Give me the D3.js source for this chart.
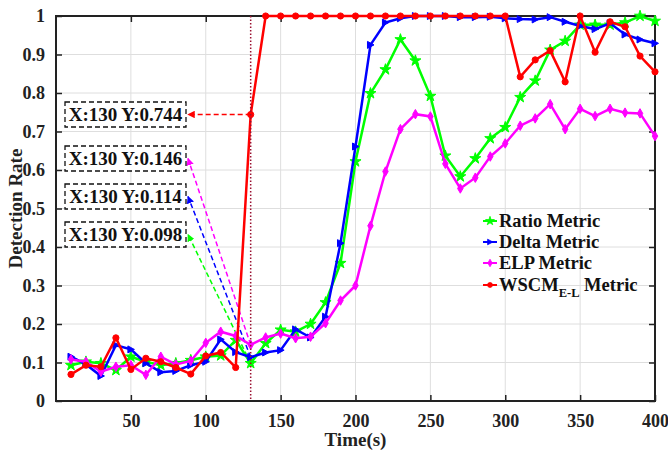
<!DOCTYPE html>
<html>
<head>
<meta charset="utf-8">
<script src="https://cdn.jsdelivr.net/npm/d3@7"></script>
<style>
  body { margin: 0; background: #fff; }
  text { font-family: "Liberation Serif", "Times New Roman", serif; font-weight: bold; }
</style>
</head>
<body>
<div id="chart"></div>
<script>
// time axis (seconds)
const times = [10, 20, 30, 40, 50, 60, 70, 80, 90, 100, 110, 120, 130, 140, 150, 160, 170, 180, 190, 200,
               210, 220, 230, 240, 250, 260, 270, 280, 290, 300, 310, 320, 330, 340, 350, 360, 370, 380, 390, 400];

const ratioMetric = [0.093, 0.102, 0.098, 0.080, 0.115, 0.102, 0.093, 0.098, 0.106, 0.115, 0.118, 0.158, 0.098,
                     0.150, 0.185, 0.180, 0.200, 0.256, 0.358, 0.622, 0.799, 0.861, 0.939, 0.884, 0.792, 0.637,
                     0.583, 0.630, 0.682, 0.711, 0.789, 0.832, 0.912, 0.935, 0.977, 0.977, 0.977, 0.983, 1.000, 0.987];

const deltaMetric = [0.115, 0.095, 0.065, 0.145, 0.134, 0.098, 0.075, 0.078, 0.093, 0.102, 0.160, 0.127, 0.114,
                     0.126, 0.132, 0.186, 0.165, 0.219, 0.410, 0.661, 0.925, 0.983, 0.994, 1.000, 1.000, 1.000,
                     0.997, 0.997, 0.998, 0.994, 0.992, 0.991, 0.997, 0.985, 0.974, 0.966, 0.981, 0.952, 0.939, 0.929];

const elpMetric = [0.108, 0.102, 0.076, 0.089, 0.093, 0.068, 0.115, 0.095, 0.104, 0.151, 0.180, 0.169, 0.146,
                   0.165, 0.175, 0.163, 0.167, 0.202, 0.261, 0.300, 0.455, 0.596, 0.706, 0.745, 0.739, 0.616,
                   0.552, 0.580, 0.635, 0.669, 0.715, 0.734, 0.771, 0.706, 0.759, 0.740, 0.759, 0.749, 0.747, 0.688];

const wscmMetric = [0.069, 0.093, 0.089, 0.164, 0.082, 0.111, 0.102, 0.087, 0.070, 0.117, 0.126, 0.087, 0.744,
                    1, 1, 1, 1, 1, 1, 1, 1, 1, 1, 1, 1, 1, 1, 1, 1, 1,
                    0.842, 0.886, 0.910, 0.829, 1.000, 0.906, 0.985, 0.972, 0.896, 0.855];

const xTicks = [50, 100, 150, 200, 250, 300, 350, 400];
const yTicks = [0, 0.1, 0.2, 0.3, 0.4, 0.5, 0.6, 0.7, 0.8, 0.9, 1];

const markTime = 130; // cursor / datatip position

const w = 668, h = 450;
const margin = {top: 16, right: 13, bottom: 49, left: 56};

const svg = d3.select("#chart").append("svg")
  .attr("width", w).attr("height", h);

const x = d3.scaleLinear().domain([0, 400]).range([margin.left, w - margin.right]);
const y = d3.scaleLinear().domain([0, 1]).range([h - margin.bottom, margin.top]);

// grid
svg.append("g").selectAll("line").data(xTicks.slice(0, -1)).enter().append("line")
  .attr("x1", d => x(d)).attr("x2", d => x(d))
  .attr("y1", y(0)).attr("y2", y(1))
  .attr("stroke", "#dedede").attr("stroke-width", 1);
svg.append("g").selectAll("line").data(yTicks.slice(1, -1)).enter().append("line")
  .attr("x1", x(0)).attr("x2", x(400))
  .attr("y1", d => y(d)).attr("y2", d => y(d))
  .attr("stroke", "#dedede").attr("stroke-width", 1);

// axes, MATLAB style ticks pointing inward
const styleAxis = g => {
  g.select(".domain").remove();
  g.selectAll("line").attr("stroke", "#222").attr("stroke-width", 1.5);
  g.selectAll("text").attr("fill", "#222").style("font-size", "18px");
};
svg.append("g").attr("transform", `translate(0, ${y(0)})`)
  .call(d3.axisBottom(x).tickValues(xTicks).tickSizeInner(-6).tickSizeOuter(0).tickPadding(13))
  .call(styleAxis);
svg.append("g").attr("transform", `translate(0, ${y(1)})`)
  .call(d3.axisTop(x).tickValues(xTicks).tickSizeInner(-6).tickSizeOuter(0).tickFormat(""))
  .call(styleAxis);
svg.append("g").attr("transform", `translate(${x(0)}, 0)`)
  .call(d3.axisLeft(y).tickValues(yTicks).tickSizeInner(-6).tickSizeOuter(0).tickPadding(11).tickFormat(d3.format("")))
  .call(styleAxis);
svg.append("g").attr("transform", `translate(${x(400)}, 0)`)
  .call(d3.axisRight(y).tickValues(yTicks).tickSizeInner(-6).tickSizeOuter(0).tickFormat(""))
  .call(styleAxis);

svg.append("rect")
  .attr("x", x(0)).attr("y", y(1))
  .attr("width", x(400) - x(0)).attr("height", y(0) - y(1))
  .attr("fill", "none").attr("stroke", "#222").attr("stroke-width", 2);

// axis titles
svg.append("text").attr("x", (x(0) + x(400)) / 2).attr("y", 446)
  .attr("text-anchor", "middle").style("font-size", "19px").attr("fill", "#222").text("Time(s)");
svg.append("text").attr("transform", `translate(22, ${(y(0) + y(1)) / 2}) rotate(-90)`)
  .attr("text-anchor", "middle").style("font-size", "19px").attr("fill", "#222").text("Detection Rate");

// series
const triRight = "M-3,-3.5L3.5,0L-3,3.5Z";
const series = [
  {name: "Ratio Metric", values: ratioMetric, color: "#00ff00", symbol: d3.symbol(d3.symbolStar, 38)()},
  {name: "Delta Metric", values: deltaMetric, color: "#0000ff", symbol: triRight},
  {name: "ELP Metric", values: elpMetric, color: "#ff00ff", symbol: d3.symbol(d3.symbolDiamond, 26)()},
  {name: "WSCM", values: wscmMetric, color: "#ff0000", symbol: d3.symbol(d3.symbolCircle, 30)()}
];

// datatip arrows (behind lines)
const tipBoxes = [
  {s: 3, top: 102},
  {s: 2, top: 146},
  {s: 1, top: 184},
  {s: 0, top: 222}
];
const tipIdx = times.indexOf(markTime);
const boxLeft = 65, boxW = 121, boxH = 25;

const defs = svg.append("defs");
series.forEach((s, i) => {
  defs.append("marker").attr("id", "arr" + i)
    .attr("viewBox", "0 0 10 10").attr("refX", 9).attr("refY", 5)
    .attr("markerWidth", 5).attr("markerHeight", 5).attr("orient", "auto")
    .append("path").attr("d", "M0,0L10,5L0,10Z").attr("fill", s.color);
});

tipBoxes.forEach(b => {
  const s = series[b.s];
  svg.append("line")
    .attr("x1", x(markTime)).attr("y1", y(s.values[tipIdx]))
    .attr("x2", boxLeft + boxW + 2).attr("y2", b.top + boxH / 2)
    .attr("stroke", s.color).attr("stroke-width", 1.5)
    .attr("stroke-dasharray", "5,3")
    .attr("marker-end", `url(#arr${b.s})`);
});

const line = d3.line().x((d, i) => x(times[i])).y(d => y(d));
series.forEach(s => {
  svg.append("path").datum(s.values)
    .attr("d", line).attr("fill", "none")
    .attr("stroke", s.color).attr("stroke-width", 2.5);
  svg.append("g").selectAll("path").data(s.values).enter().append("path")
    .attr("d", s.symbol)
    .attr("transform", (d, i) => `translate(${x(times[i])}, ${y(d)})`)
    .attr("fill", s.color).attr("stroke", s.color).attr("stroke-width", 1);
});

// cursor line
svg.append("line")
  .attr("x1", x(markTime)).attr("x2", x(markTime))
  .attr("y1", y(1)).attr("y2", y(0))
  .attr("stroke", "#9a1030").attr("stroke-width", 1.5)
  .attr("stroke-dasharray", "1.5,2");

// datatip boxes
tipBoxes.forEach(b => {
  const s = series[b.s];
  svg.append("rect")
    .attr("x", boxLeft).attr("y", b.top).attr("width", boxW).attr("height", boxH)
    .attr("fill", "#fff").attr("stroke", "#111").attr("stroke-width", 1.3)
    .attr("stroke-dasharray", "5,3");
  svg.append("text")
    .attr("x", boxLeft + boxW / 2).attr("y", b.top + boxH / 2 + 6.5)
    .attr("text-anchor", "middle").style("font-size", "19px").attr("fill", "#111")
    .text(`X:${times[tipIdx]} Y:${d3.format(".3f")(s.values[tipIdx])}`);
});

// legend
const legend = svg.append("g");
const legendY = [221, 242, 263, 285];
series.forEach((s, i) => {
  const g = legend.append("g").attr("transform", `translate(483, ${legendY[i]})`);
  g.append("line").attr("x1", 0).attr("x2", 14).attr("stroke", s.color).attr("stroke-width", 2);
  g.append("path").attr("d", s.symbol).attr("transform", "translate(7,0) scale(0.8)")
    .attr("fill", s.color).attr("stroke", s.color);
  const t = g.append("text").attr("x", 16).attr("y", 6).style("font-size", "18.5px").attr("fill", "#111");
  if (s.name === "WSCM") {
    t.append("tspan").text("WSCM");
    t.append("tspan").attr("dy", 6).style("font-size", "12.5px").text("E-L");
    t.append("tspan").attr("dy", -6).text(" Metric");
  } else {
    t.text(s.name);
  }
});
</script>
</body>
</html>
